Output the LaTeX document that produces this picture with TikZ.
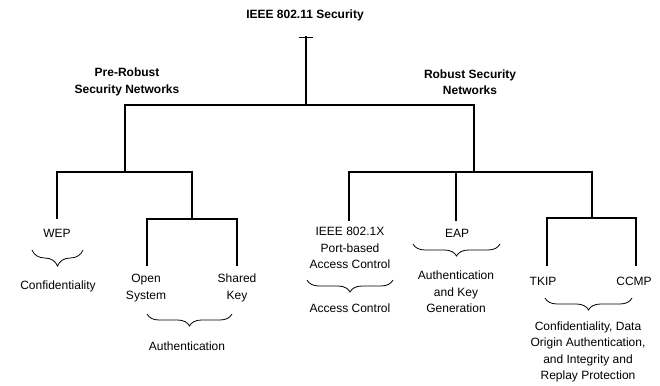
\documentclass[tikz,border=0pt]{standalone}
\usepackage{fontspec}
\setmainfont{Liberation Sans}
\usepackage{tikz}
\usetikzlibrary{decorations.pathreplacing}
\tikzset{lbl/.style={align=center,inner sep=0pt,font=\fontsize{12}{16.5}\selectfont},
  head/.style={lbl,font=\fontsize{12}{16.5}\selectfont\bfseries},
  tree/.style={draw,line width=1.6pt,line cap=rect},
  brc/.style={draw,line width=0.8pt,decorate,decoration={brace,mirror,amplitude=#1}},
  brc/.default=12pt}

\begin{document}
\begin{tikzpicture}[x=1pt,y=-1pt]
    \useasboundingbox (0,0) rectangle (660,385);

    % headings
    \node[head] (title) at (305,15) {IEEE 802.11 Security};
    \node[head] (pre) at (127,82) {Pre-Robust\\Security Networks};
    \node[head] (rsn) at (470,82) {Robust Security\\Networks};

    % tree joints
    \coordinate (top) at (306,37);
    \coordinate (root) at (306,105);
    \coordinate (preJ) at (125,105);
    \coordinate (rsnJ) at (474,105);
    \coordinate (preB) at (125,172);
    \coordinate (wepJ) at (57,172);
    \coordinate (authJ) at (192,172);
    \coordinate (wepE) at (57,218);
    \coordinate (authB) at (192,219);
    \coordinate (openJ) at (147,219);
    \coordinate (sharedJ) at (237,219);
    \coordinate (openE) at (147,265);
    \coordinate (sharedE) at (237,265);
    \coordinate (rsnB) at (474,172);
    \coordinate (dotJ) at (349,172);
    \coordinate (eapJ) at (456,172);
    \coordinate (cipJ) at (592,172);
    \coordinate (dotE) at (349,220);
    \coordinate (eapE) at (456,220);
    \coordinate (cipB) at (592,218);
    \coordinate (tkipJ) at (547,218);
    \coordinate (ccmpJ) at (636,218);
    \coordinate (tkipE) at (547,265);
    \coordinate (ccmpE) at (636,265);

    % leaves
    \node[lbl] (wep) at (57,233) {WEP};
    \node[lbl] (open) at (146,288) {Open\\System};
    \node[lbl] (shared) at (237,288) {Shared\\Key};
    \node[lbl] (dotx) at (350,248) {IEEE 802.1X\\Port-based\\Access Control};
    \node[lbl] (eap) at (457,233) {EAP};
    \node[lbl] (tkip) at (543,281) {TKIP};
    \node[lbl] (ccmp) at (634,281) {CCMP};

    % services
    \node[lbl] (conf) at (58,286) {Confidentiality};
    \node[lbl] (auth) at (187,346) {Authentication};
    \node[lbl] (acc) at (350,308) {Access Control};
    \node[lbl] (akg) at (456,292) {Authentication\\and Key\\Generation};
    \node[lbl] (prot) at (588,352) {Confidentiality, Data\\Origin Authentication,\\and Integrity and\\Replay Protection};

    \draw[line width=0.8pt] ([xshift=-7pt]top) -- ([xshift=7pt]top);
    \path[tree]
    (top) edge (root)
    (preJ) edge (rsnJ)
    (preJ) edge (preB)
    (wepJ) edge (authJ)
    (wepJ) edge (wepE)
    (authJ) edge (authB)
    (openJ) edge (sharedJ)
    (openJ) edge (openE)
    (sharedJ) edge (sharedE)
    (rsnJ) edge (rsnB)
    (dotJ) edge (cipJ)
    (dotJ) edge (dotE)
    (eapJ) edge (eapE)
    (cipJ) edge (cipB)
    (tkipJ) edge (ccmpJ)
    (tkipJ) edge (tkipE)
    (ccmpJ) edge (ccmpE)
    ;

    % braces
    \path[brc=16pt] (32,250) -- (83,250);
    \path[brc] (147,314) -- (232,314);
    \path[brc] (307,280) -- (393,280);
    \path[brc] (413,244) -- (500,244);
    \path[brc] (545,298) -- (632,298);
\end{tikzpicture}
\end{document}
